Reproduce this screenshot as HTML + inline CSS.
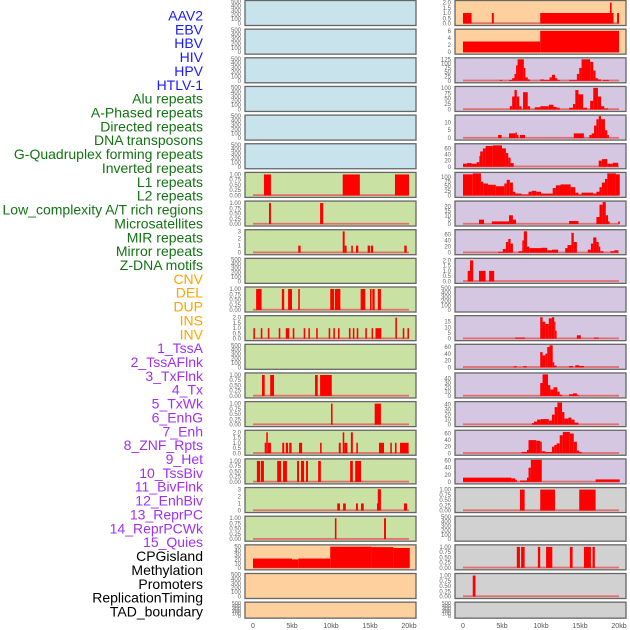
<!DOCTYPE html>
<html><head><meta charset="utf-8"><style>
body{margin:0;background:#fff;width:630px;height:630px;overflow:hidden}
svg{display:block}
text{font-family:"Liberation Sans",sans-serif}
</style></head><body>
<svg id="c" width="630" height="630" xmlns="http://www.w3.org/2000/svg"></svg>
<script>
const labelNames=["AAV2","EBV","HBV","HIV","HPV","HTLV-1","Alu repeats","A-Phased repeats","Directed repeats","DNA transposons","G-Quadruplex forming repeats","Inverted repeats","L1 repeats","L2 repeats","Low_complexity A/T rich regions","Microsatellites","MIR repeats","Mirror repeats","Z-DNA motifs","CNV","DEL","DUP","INS","INV","1_TssA","2_TssAFlnk","3_TxFlnk","4_Tx","5_TxWk","6_EnhG","7_Enh","8_ZNF_Rpts","9_Het","10_TssBiv","11_BivFlnk","12_EnhBiv","13_ReprPC","14_ReprPCWk","15_Quies","CPGisland","Methylation","Promoters","ReplicationTiming","TAD_boundary"];
const labelColors=[].concat(Array(6).fill("#1a1aff"),Array(13).fill("#137313"),Array(5).fill("#ffa500"),Array(15).fill("#a030f0"),Array(5).fill("#000"));
const panelYMax=[500,500,500,500,500,500,1.05,1.05,3.1,500,1.05,2.1,500,1.05,1.05,2.1,1.05,3.1,1.05,52,500,500,
 2.1,6.2,128,102,14,72,120,25,72,2.1,500,19.5,65,51,44,67,62,1.05,500,1.05,1.05,500];
const panelTicks=[];
const E=[0,100,200,300,400,500],P=[0,0.25,0.5,0.75,1],H=["0.00","0.25","0.50","0.75","1.00"];
const panelTickLabels=[];
function setT(i,v,l){panelTicks[i]=v;panelTickLabels[i]=l||v.map(String);}
for(let i=0;i<44;i++)setT(i,E);
[6,7,10,13,14,16,18,39,41,42].forEach(i=>setT(i,P,H));
[8,17].forEach(i=>setT(i,[0,1,2,3]));
[11,15,31,22].forEach(i=>setT(i,[0,0.5,1,1.5,2],["0.0","0.5","1.0","1.5","2.0"]));
setT(19,[0,10,20,30,40,50]);setT(23,[0,2,4,6]);setT(24,[0,25,50,75,100,125]);setT(25,[0,25,50,75,100]);
setT(26,[0,5,10]);setT(27,[0,20,40,60]);setT(28,[0,25,50,75,100]);setT(29,[0,5,10,15,20]);setT(30,[0,20,40,60]);
setT(33,[0,5,10,15]);setT(34,[0,20,40,60]);setT(35,[0,10,20,30,40]);setT(36,[0,10,20,30,40]);setT(37,[0,20,40,60]);setT(38,[0,20,40,60]);
const panelSegments=Array.from({length:44},()=>[]);
panelSegments[6]=[[1.4,2.3,1],[11.5,13.7,1],[18.2,20,1]];
panelSegments[7]=[[2.05,2.3,1],[8.6,9.0,1]];
panelSegments[8]=[[5.8,6.1,1],[11.5,11.75,3],[11.75,12.0,1],[12.6,12.8,1],[13.2,13.5,1],[14.7,15.0,1],[15.1,15.4,1],[19.4,19.7,1]];
panelSegments[10]=[[0.4,1.1,1],[3.7,4.0,1],[4.5,5.0,1],[5.8,6.0,1],[9.9,10.4,1],[10.5,11.2,1],[13.8,14.4,1],[15.0,15.2,1],[15.3,15.6,1],[16.0,16.4,1]];
panelSegments[11]=[[0.05,0.25,1],[1.0,1.2,1],[1.9,2.1,1],[3.3,3.5,1],[4.2,4.65,1],[5.1,5.3,1],[6.5,6.7,1],[7.1,7.3,1],[8.1,8.3,1],[9.7,9.9,1],[10.3,10.5,1],[10.9,11.1,1],[12.3,12.5,1],[12.8,13.0,1],[13.3,13.5,1],[14.4,14.6,1],[15.2,15.4,1],[15.7,16.45,1],[18.25,18.45,2],[19.2,19.4,1],[19.8,20,1]];
panelSegments[13]=[[1.15,1.5,1],[2.2,2.7,1],[7.95,8.3,1],[8.6,10.1,1]];
panelSegments[14]=[[10.0,10.2,1],[15.6,16.4,1]];
panelSegments[15]=[[1.5,1.7,1],[1.7,1.9,2],[1.9,2.3,1],[3.75,4.0,1],[4.2,4.5,1],[4.65,4.95,1],[5.9,6.3,1],[8.6,8.8,1],[11.0,11.25,1],[11.5,11.7,2],[11.7,12.1,1],[12.55,12.8,2],[13.25,13.45,1],[16.15,16.8,1],[17.6,17.8,1],[18.2,18.4,1],[18.85,19.95,1]];
panelSegments[16]=[[0.5,0.9,1],[1.0,1.4,1],[3.1,3.6,1],[3.85,4.35,1],[5.65,5.9,1],[6.15,6.55,1],[6.8,7.05,1],[8.35,8.7,1],[12.45,12.8,1],[13.1,13.85,1]];
panelSegments[17]=[[10.8,11.15,1],[11.55,11.9,1],[13.2,13.45,1],[13.85,14.2,1],[15.9,16.0,1],[16.0,16.4,3],[19.35,19.75,1]];
panelSegments[18]=[[10.5,10.7,1],[16.8,17.05,1]];
panelSegments[19]=[[0,5,22],[5,5.8,20],[5.8,9.9,22],[9.9,15.2,50],[15.2,18,49],[18,20.1,47]];
panelSegments[22]=[[0,1.1,1],[3.7,3.95,1],[9.9,19.3,1],[18.85,19.05,2],[19.75,20,1]];
panelSegments[23]=[[0,9.9,3],[9.9,20,6]];
panelSegments[24]=[[4.7,5.0,5],[5.9,6.3,5],[6.3,6.6,15],[6.6,6.8,40],[6.8,7.0,90],[7.0,7.8,125],[7.8,8.0,75],[8.0,8.3,20],[8.3,8.6,8],[9.9,10.4,8],[10.4,11.1,5],[11.1,11.4,20],[11.4,11.8,35],[11.8,12.1,15],[12.1,12.4,5],[13.6,14.6,5],[14.6,14.9,40],[14.9,15.2,75],[15.2,16.3,125],[16.3,16.7,110],[16.7,17.0,60],[17.0,17.3,15],[17.3,17.7,8],[17.9,18.7,5]];
panelSegments[25]=[[6.0,6.3,15],[6.3,6.6,60],[6.6,6.9,90],[6.9,7.2,60],[7.2,7.5,15],[7.7,8.3,80],[8.3,8.6,15],[9.2,9.9,10],[9.9,11.0,15],[11.0,11.6,22],[11.6,12.0,12],[12.0,12.4,8],[13.6,14.1,8],[14.1,14.4,25],[14.4,14.8,90],[14.8,15.4,70],[15.4,15.9,8],[16.3,16.7,40],[16.7,17.3,100],[17.3,17.7,60],[17.7,18.1,15],[18.1,18.6,5]];
panelSegments[26]=[[4.5,4.95,2],[5.9,6.7,3],[6.7,6.9,3.5],[6.9,7.1,2],[7.3,7.95,2],[14.2,15.5,3],[16.2,16.5,2],[16.5,16.8,3],[16.8,17.1,8],[17.1,17.4,12],[17.4,17.7,14],[17.7,18.2,12],[18.2,18.5,5],[18.5,18.7,2]];
panelSegments[27]=[[0,0.5,10],[0.5,1.1,12],[1.1,1.75,10],[1.75,2.1,15],[2.1,2.2,35],[2.2,2.55,50],[2.55,2.9,60],[2.9,3.8,68],[3.8,5.0,70],[5.0,5.5,60],[5.5,5.8,45],[5.8,6.1,30],[6.1,6.5,12],[17.4,17.8,20],[17.8,18.5,25],[18.5,19.2,10],[19.2,19.9,13]];
panelSegments[28]=[[0,1.25,115],[1.25,2.3,120],[2.3,2.6,75],[2.6,3.2,65],[3.2,4.2,58],[4.2,5.3,50],[5.3,5.6,65],[5.6,6.0,85],[6.0,6.4,70],[6.4,6.7,20],[6.7,7.5,10],[7.5,8.4,5],[8.4,8.8,20],[8.8,9.4,25],[9.4,10.0,20],[10.0,11.5,10],[11.5,11.9,40],[11.9,12.5,55],[12.5,13.8,60],[13.8,14.4,45],[14.4,14.8,15],[14.8,15.2,5],[15.2,16.7,15],[16.7,17.1,10],[17.1,17.5,20],[17.5,17.8,45],[17.8,18.2,70],[18.2,18.5,90],[18.5,19.6,120],[19.6,20.1,115]];
panelSegments[29]=[[2.05,2.7,5],[3.7,5.9,3],[5.9,6.4,10],[6.4,6.8,5],[13.6,14.8,3.5],[17.1,17.5,8],[17.5,17.9,22],[17.9,18.3,25],[18.3,18.6,10],[18.6,18.8,3],[19.9,20.1,3]];
panelSegments[30]=[[4.5,5.1,3],[5.1,5.5,12],[5.5,5.8,35],[5.8,6.1,45],[6.1,6.4,30],[7.1,7.6,5],[7.6,7.8,40],[7.8,8.2,70],[8.2,8.5,20],[8.5,10.0,15],[10.0,10.8,16],[10.8,11.4,8],[11.4,12.2,10],[13.1,13.4,15],[13.4,13.9,25],[13.9,14.2,65],[14.2,14.6,35],[16.0,16.4,10],[16.4,16.7,30],[16.7,17.1,50],[17.1,17.4,35],[17.4,17.6,20],[17.6,18.0,5],[18.9,19.4,5],[19.4,19.9,8]];
panelSegments[31]=[[0.6,0.9,1],[0.9,1.3,2],[2.05,2.9,1],[3.35,4.0,1]];
panelSegments[33]=[[6.7,7.95,1],[9.9,10.2,19],[10.2,10.55,15],[10.55,11.0,13],[11.0,11.4,18],[11.4,11.7,19],[11.7,11.85,15],[11.85,12.0,7],[14.6,15.1,3],[16.8,17.4,1]];
panelSegments[34]=[[6.5,6.9,3],[7.7,8.2,3],[9.9,10.2,45],[10.2,10.55,35],[10.55,10.8,40],[10.8,11.1,60],[11.1,11.5,65],[11.5,11.7,15],[11.7,12.0,5],[13.6,14.1,4],[14.4,14.9,6],[14.9,15.5,4]];
panelSegments[35]=[[9.9,10.2,30],[10.2,10.9,50],[10.9,11.2,25],[11.2,11.6,15],[11.6,12.1,20],[12.1,12.4,10],[12.4,12.7,3],[13.6,14.1,4],[14.1,14.6,6],[14.6,14.8,3]];
panelSegments[36]=[[8.85,9.1,3],[9.1,9.5,6],[9.5,9.95,10],[9.95,11.0,11],[11.0,11.4,8],[11.4,11.75,20],[11.75,12.1,35],[12.1,12.7,44],[12.7,13.0,25],[13.0,13.5,12],[13.5,13.9,14],[13.9,14.3,10],[14.3,14.8,4]];
panelSegments[37]=[[7.5,8.2,4],[8.2,8.4,10],[8.4,9.4,40],[9.4,9.9,38],[9.9,10.1,35],[10.1,10.55,6],[10.55,11.4,4],[11.4,11.7,20],[11.7,12.0,25],[12.0,12.4,30],[12.4,12.8,55],[12.8,13.7,65],[13.7,14.2,60],[14.2,14.6,35],[14.6,14.9,8],[14.9,15.2,4]];
panelSegments[38]=[[0,6.2,12],[6.2,6.7,10],[6.7,6.9,6],[7.3,8.2,4],[8.2,8.4,12],[8.4,8.7,40],[8.7,10.1,62],[17.0,20.1,7]];
panelSegments[39]=[[7.3,7.9,1],[9.9,11.8,1],[14.9,17.0,1]];
panelSegments[41]=[[6.9,7.3,1],[7.45,7.9,1],[9.6,9.9,1],[10.65,11.45,1],[13.7,14.05,1],[15.5,16.4,1],[16.6,16.9,1]];
panelSegments[42]=[[1.25,1.6,1]];
const xTickLabels=["0","5kb","10kb","15kb","20kb"];
const xTickValues=[0,5,10,15,20];

const NS="http://www.w3.org/2000/svg",svg=document.getElementById("c");
function mk(t,a,p){const e=document.createElementNS(NS,t);for(const k in a)e.setAttribute(k,a[k]);(p||svg).appendChild(e);return e;}
function fillFor(i){if(i<6)return"#c8e3eb";if(i<19)return"#c9e2a3";if(i<24)return"#fed09e";if(i<39)return"#d5c7e2";return"#d1d1d1";}
// labels
labelNames.forEach((n,i)=>{
 const t=mk("text",{x:203,y:20.5+i*13.86,"text-anchor":"end","font-size":"14",fill:labelColors[i]});
 t.textContent=n;
 
 
});
for(let i=0;i<44;i++){
 const col=i<22?0:1,row=i%22;
 const x0=col?455:245,w=171,top=row*28.65+0.5,h=row==21?16:25;
 const g=mk("g",{});
 
 
 const fr=mk("rect",{x:x0,y:top,width:w,height:h,fill:fillFor(i),stroke:"#666","stroke-width":1.3},g);
 
 
 const xs=v=>x0+8+v*7.8;
 const ymax=panelYMax[i];
 const ys=v=>top+h-2-(v/ymax)*(h-3);
 const segs=panelSegments[i];
 if(segs.length){
  const bl=mk("rect",{x:xs(0),y:ys(0)-1.2,width:xs(20)-xs(0),height:1.8,fill:"#e07070"},g);
  
  
 }
 segs.forEach(s=>{
  const r=mk("rect",{x:xs(s[0]),y:ys(Math.min(s[2],ymax)),width:Math.max(1.2,xs(s[1])-xs(s[0])),height:ys(0)-ys(Math.min(s[2],ymax)),fill:"#ff0000"},g);
  
  
 });
 panelTicks[i].forEach((v,k)=>{
  const t=mk("text",{x:x0-4,y:ys(v)+2,"text-anchor":"end","font-size":row==21?"5.5":"6",fill:"#666"},g);
  t.textContent=panelTickLabels[i][k];
  
  
 });
}
[245,455].forEach(x0=>{
 xTickValues.forEach((v,k)=>{
  const t=mk("text",{x:x0+8+v*7.8,y:628,"text-anchor":"middle","font-size":"7",fill:"#555"});
  t.textContent=xTickLabels[k];
  
  
 });
});
</script>
</body></html>
